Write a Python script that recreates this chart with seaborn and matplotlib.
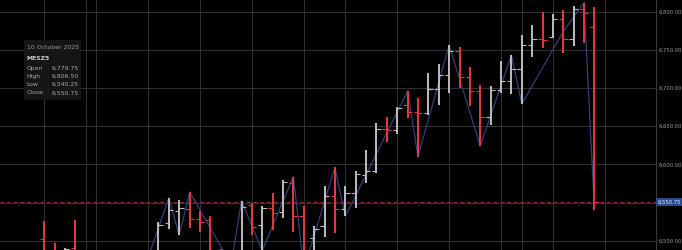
import matplotlib
matplotlib.use("Agg")
import matplotlib.pyplot as plt
from matplotlib.patches import Rectangle
import seaborn as sns
import pandas as pd

# ---------------- data ----------------
opens = [6502, 6484, 6470, 6490, 6475, 6462, 6470, 6458, 6474, 6468,
         6479, 6483, 6523, 6539, 6542, 6528, 6527, 6487, 6476, 6484,
         6547, 6521, 6543, 6537, 6575, 6532, 6504, 6519, 6559, 6541,
         6562, 6586, 6591, 6646, 6645, 6678, 6669, 6667, 6699, 6717,
         6749, 6715, 6696, 6662, 6697, 6709, 6725, 6756, 6764.5, 6767,
         6790, 6764, 6803, 6779.75]
highs = [6526, 6497, 6491, 6527, 6485, 6478, 6484, 6480, 6486, 6483,
         6486, 6525, 6556, 6553, 6564, 6539, 6532, 6489, 6486, 6552,
         6550, 6545, 6563, 6580, 6584, 6546, 6519, 6571, 6596, 6571,
         6591, 6619, 6654, 6662, 6675, 6696, 6687, 6720, 6731, 6756,
         6754, 6728, 6704, 6702, 6735, 6743, 6770, 6783, 6800, 6797,
         6802, 6807, 6812, 6806.50]
lows = [6470, 6465, 6460, 6470, 6455, 6448, 6452, 6445, 6460, 6462,
        6478, 6480, 6515, 6507, 6516, 6512, 6480, 6473, 6469, 6482,
        6508, 6487, 6514, 6530, 6511, 6462, 6480, 6505, 6510, 6532,
        6543, 6576, 6589, 6629, 6640, 6661, 6610, 6665, 6678, 6693,
        6700, 6677, 6624, 6652, 6693, 6692, 6679, 6741, 6753, 6766,
        6746, 6755, 6759, 6540.25]
closes = [6478, 6470, 6489, 6475, 6462, 6470, 6458, 6474, 6468, 6479,
          6482, 6520, 6540, 6543, 6528, 6524, 6485, 6476, 6484, 6544,
          6518, 6543, 6536, 6577, 6532, 6478, 6515, 6559, 6541, 6562,
          6587, 6591, 6646, 6645, 6674, 6669, 6667, 6699, 6717, 6749,
          6715, 6696, 6662, 6697, 6709, 6725, 6756, 6764, 6763, 6790,
          6764, 6803, 6798, 6550.75]

zigzag_bar = [10, 12, 13, 14, 18, 19, 21, 24, 25, 28, 29, 35, 36, 39,
              42, 45, 46, 50, 50, 52, 53]
zigzag_price = [6478, 6556, 6507, 6564, 6469, 6552, 6487, 6584, 6462,
                6596, 6532, 6696, 6610, 6756, 6624, 6743, 6679, 6802,
                6746, 6812, 6540.25]

week_grid = [0, 4, 5, 10, 15, 20, 25, 29, 34, 39, 44, 46, 49, 54]
price_ticks = [6500, 6550, 6600, 6650, 6700, 6750, 6800]

tip_date = "10 October 2025"
tip_symbol = "MESZ5"
tip_rows = ["Open", "High", "Low", "Close"]
tip_vals = ["6,779.75", "6,806.50", "6,540.25", "6,550.75"]

# ---------------- styling ----------------
BG = "#000000"
GRID = "#303030"
UP = "#b8b8b8"
DOWN = "#e0383c"
ZIG = "#313f78"

sns.set_theme(style="dark", rc={
    "axes.facecolor": BG, "figure.facecolor": BG,
    "axes.edgecolor": GRID, "grid.color": GRID,
})
plt.rcParams["font.family"] = ["DejaVu Sans"]

W, H = 682, 250
fig = plt.figure(figsize=(W / 100, H / 100), dpi=100)
ax = fig.add_axes([0, 0, 656 / W, 1])

df = pd.DataFrame({"bar": range(len(opens)), "open": opens, "high": highs,
                   "low": lows, "close": closes})
df["color"] = [UP if c >= o else DOWN for o, c in zip(df["open"], df["close"])]

zz = pd.DataFrame({"bar": zigzag_bar, "price": zigzag_price})
sns.lineplot(data=zz, x="bar", y="price", sort=False, color=ZIG, lw=0.9,
             ax=ax, zorder=2)

ax.vlines(df["bar"], df["low"], df["high"], colors=df["color"], lw=1.45,
          zorder=3)
ax.hlines(df["open"], df["bar"] - 0.42, df["bar"], colors=df["color"],
          lw=0.8, zorder=3)
ax.hlines(df["close"], df["bar"], df["bar"] + 0.42, colors=df["color"],
          lw=0.8, zorder=3)

last_close = closes[-1]
ax.axhline(last_close, color="#9c2c30", lw=0.8, ls=(0, (3, 3)), zorder=1.5)

ax.set_xlim(-4.268, 58.93)
ax.set_ylim(6487.8, 6815.3)
ax.set_xticks(week_grid)
ax.set_xticklabels([])
ax.set_yticks(price_ticks)
ax.set_yticklabels(["" if abs(v - last_close) < 10 else f"{v:,.2f}"
                    for v in price_ticks])
ax.yaxis.tick_right()
ax.tick_params(axis="y", length=0, pad=2, labelsize=3.8, labelcolor="#9a9a9a")
ax.tick_params(axis="x", length=0)
ax.grid(True, color=GRID, lw=0.8)
ax.set_xlabel("")
ax.set_ylabel("")
for s in ["top", "left", "bottom"]:
    ax.spines[s].set_visible(False)
ax.spines["right"].set_color("#3a3a3a")
ax.spines["right"].set_linewidth(0.8)

ax.text(1.002, last_close, f"{last_close:,.2f}", transform=ax.get_yaxis_transform(),
        ha="left", va="center", fontsize=3.8, color="#e8ecf5",
        bbox=dict(boxstyle="square,pad=0.25", fc="#2b4a8c", ec="none"),
        clip_on=False)

# tooltip box
def fx(px):
    return px / W

def fy(py):
    return 1 - py / H

fig.patches.append(Rectangle((fx(24), fy(100)), fx(81) - fx(24), fy(40) - fy(100),
                             transform=fig.transFigure, fc="#171717",
                             ec="none", alpha=0.92, zorder=10))
fig.text(fx(26.7), fy(47.7), tip_date, fontsize=4.4, color="#9a9a9a",
         va="center", ha="left", zorder=11)
fig.text(fx(26.7), fy(58), tip_symbol, fontsize=4.4, color="#cfcfcf",
         fontweight="bold", va="center", ha="left", zorder=11)
row_y = [68.3, 76.3, 84.7, 93]
for lab, val, yy in zip(tip_rows, tip_vals, row_y):
    fig.text(fx(26.7), fy(yy), lab, fontsize=4.4, color="#a8a8a8",
             va="center", ha="left", zorder=11)
    fig.text(fx(78.5), fy(yy), val, fontsize=4.4, color="#a8a8a8",
             va="center", ha="right", zorder=11)

fig.savefig("out.png", dpi=100, facecolor=BG)
